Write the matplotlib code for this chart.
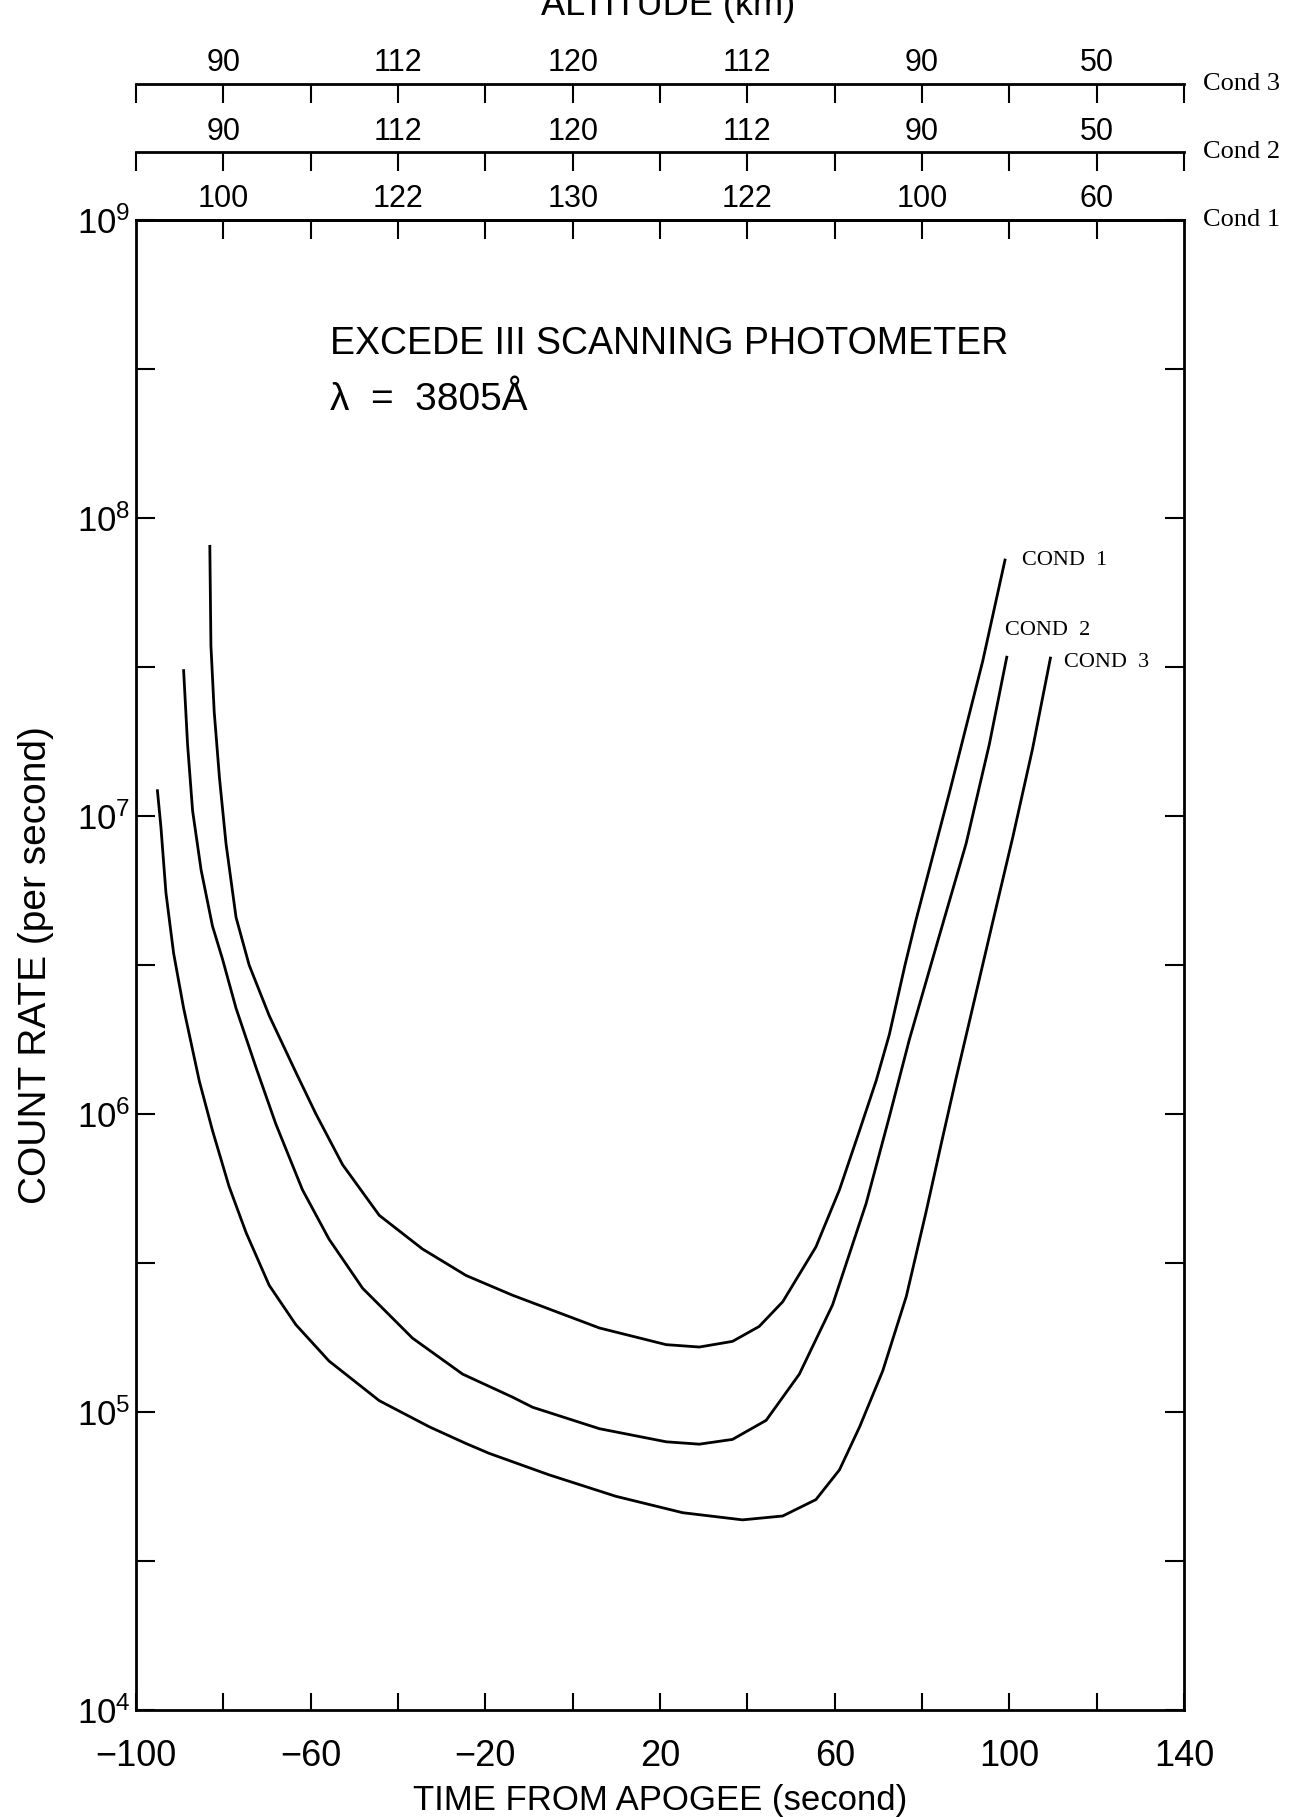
import numpy as np
import matplotlib.pyplot as plt

plt.rcParams['font.family'] = ['Liberation Sans', 'DejaVu Sans']
plt.rcParams['mathtext.fontset'] = 'custom'
plt.rcParams['mathtext.rm'] = 'Liberation Sans'

# time from apogee (s) and log10 of count rate
cond1_time = [-83.1, -82.85, -82.1, -80.9, -79.4, -77.1, -74.1, -69.5, -63.4, -58.8,
              -52.7, -44.3, -34.4, -24.4, -13.8, 6.1, 21.4, 29.0, 36.6, 42.7,
              48.1, 55.7, 61.1, 65.7, 69.5, 72.5, 76.1, 78.6, 86.3, 93.9, 99.0]
cond1_lograte = [7.905, 7.572, 7.350, 7.129, 6.908, 6.660, 6.500, 6.330, 6.140, 6.000,
                 5.830, 5.660, 5.547, 5.458, 5.392, 5.282, 5.226, 5.218, 5.237, 5.287,
                 5.370, 5.554, 5.746, 5.945, 6.112, 6.266, 6.500, 6.650, 7.080, 7.520, 7.859]

cond2_time = [-89.1, -88.2, -87.05, -85.1, -82.5, -80.2, -77.1, -72.5, -68.0, -61.9,
              -55.8, -48.1, -36.7, -25.2, -13.8, -9.2, 6.1, 21.4, 29.0, 36.6,
              44.3, 51.9, 59.5, 67.2, 72.5, 77.1, 83.4, 90.1, 95.4, 99.4]
cond2_lograte = [7.488, 7.240, 7.018, 6.819, 6.631, 6.520, 6.355, 6.155, 5.967, 5.746,
                 5.580, 5.415, 5.248, 5.127, 5.050, 5.016, 4.944, 4.900, 4.892, 4.908,
                 4.972, 5.127, 5.359, 5.700, 5.990, 6.250, 6.570, 6.908, 7.240, 7.533]

cond3_time = [-95.1, -94.3, -93.15, -91.4, -89.1, -85.5, -82.5, -78.7, -74.8, -69.5,
              -63.4, -55.8, -44.3, -32.8, -24.4, -19.1, -5.4, 9.9, 25.2, 38.9,
              48.1, 55.7, 61.1, 65.7, 71.0, 76.4, 80.9, 84.7, 87.8, 91.8,
              96.2, 100.8, 105.3, 109.4]
cond3_lograte = [7.085, 6.963, 6.742, 6.540, 6.355, 6.110, 5.945, 5.757, 5.602, 5.425,
                 5.293, 5.171, 5.038, 4.950, 4.894, 4.861, 4.789, 4.717, 4.662, 4.638,
                 4.651, 4.706, 4.806, 4.950, 5.138, 5.388, 5.670, 5.920, 6.120, 6.370,
                 6.645, 6.930, 7.225, 7.530]

# altitude (km) written above every other tick of the top scales
alt_ticks = [-80, -40, 0, 40, 80, 120]
alt_cond1 = ['100', '122', '130', '122', '100', '60']
alt_cond2 = ['90', '112', '120', '112', '90', '50']
alt_cond3 = ['90', '112', '120', '112', '90', '50']
alt_minor = [-100, -60, -20, 20, 60, 100, 140]

time_ticks = [-100, -60, -20, 20, 60, 100, 140]
time_labels = ['\u2212100', '\u221260', '\u221220', '20', '60', '100', '140']
time_minor = [-80, -40, 0, 40, 80, 120]

decades = [4, 5, 6, 7, 8, 9]

fig = plt.figure(figsize=(13.03, 18.17), dpi=100)
left, width = 0.1044, 0.8043
ax = fig.add_axes([left, 0.0589, width, 0.8200])

for t, lr in [(cond1_time, cond1_lograte), (cond2_time, cond2_lograte), (cond3_time, cond3_lograte)]:
    ax.plot(t, 10 ** np.array(lr), color='black', lw=2.0, solid_joinstyle='round')

ax.set_yscale('log')
ax.set_xlim(-100, 140)
ax.set_ylim(1e4, 1e9)

# x ticks
ax.set_xticks(time_ticks, labels=time_labels)
ax.set_xticks(time_minor, minor=True)
ax.tick_params(axis='x', which='both', direction='in', length=12, width=1.5,
               top=False, labelsize=26, pad=21)

# y ticks: decades plus half decades, both sides
ax.set_yticks([10.0 ** d for d in decades],
              labels=[r'$\mathregular{10^{%d}}$' % d for d in decades])
ax.set_yticks([10.0 ** (d + 0.5) for d in decades[:-1]], minor=True)
ax.yaxis.set_minor_formatter(plt.NullFormatter())
ax.tick_params(axis='y', which='both', direction='in', length=14, width=1.5,
               right=True, labelsize=25, pad=4)

for s in ax.spines.values():
    s.set_linewidth(2.0)

ax.set_xlabel('TIME FROM APOGEE (second)', fontsize=25)
ax.xaxis.set_label_coords(0.5, -0.050)
ax.set_ylabel('COUNT RATE (per second)', fontsize=28)
ax.yaxis.set_label_coords(-0.078, 0.5)

# altitude scale for cond 1 on the top of the frame
top1 = ax.secondary_xaxis('top')
top1.set_xticks(alt_ticks, labels=alt_cond1)
top1.set_xticks(alt_minor[1:-1], minor=True)
top1.tick_params(which='both', direction='in', length=14, width=1.5, labelsize=22, pad=4)
top1.spines['top'].set_linewidth(2.0)
ax.text(1.018, 1.0, 'Cond 1', transform=ax.transAxes, va='center', ha='left',
        fontsize=19, family='Liberation Serif')

# separate altitude scales for cond 2 and cond 3 above the plot
for y_line, labels, name in [(0.9163, alt_cond2, 'Cond 2'), (0.9540, alt_cond3, 'Cond 3')]:
    bar = fig.add_axes([left, y_line - 0.01, width, 0.01])
    bar.set_xlim(-100, 140)
    bar.patch.set_visible(False)
    for side in ['bottom', 'left', 'right']:
        bar.spines[side].set_visible(False)
    bar.spines['top'].set_linewidth(2.0)
    bar.set_yticks([])
    bar.xaxis.set_ticks_position('top')
    bar.xaxis.set_label_position('top')
    bar.set_xticks(alt_ticks, labels=labels)
    bar.set_xticks(alt_minor, minor=True)
    bar.tick_params(axis='x', which='both', direction='in', length=14, width=1.5,
                    labelsize=22, pad=4)
    bar.text(1.018, 1.0, name, transform=bar.transAxes, va='center', ha='left',
             fontsize=19, family='Liberation Serif')

# heading at the very top, cut off by the page edge as in the original
fig.text(0.513, 1 - 15 / 1817, 'ALTITUDE (km)', ha='center', va='baseline', fontsize=26)

# titles inside the frame
ax.text(0.185, 0.917, 'EXCEDE III SCANNING PHOTOMETER', transform=ax.transAxes,
        va='center', ha='left', fontsize=27)
ax.text(0.185, 0.879, '\u03bb  =  3805\u00c5', transform=ax.transAxes,
        va='center', ha='left', fontsize=28)

# curve labels next to the curve ends
ends = [(cond1_time[-1], cond1_lograte[-1], 'COND  1', (12, 0)),
        (cond2_time[-1], cond2_lograte[-1], 'COND  2', (-1, 19)),
        (cond3_time[-1], cond3_lograte[-1], 'COND  3', (10, -3))]
for t, lr, name, off in ends:
    ax.annotate(name, (t, 10 ** lr), xytext=off, textcoords='offset points',
                va='center', ha='left', fontsize=16, family='Liberation Serif')

fig.savefig('out.png', dpi=100)
